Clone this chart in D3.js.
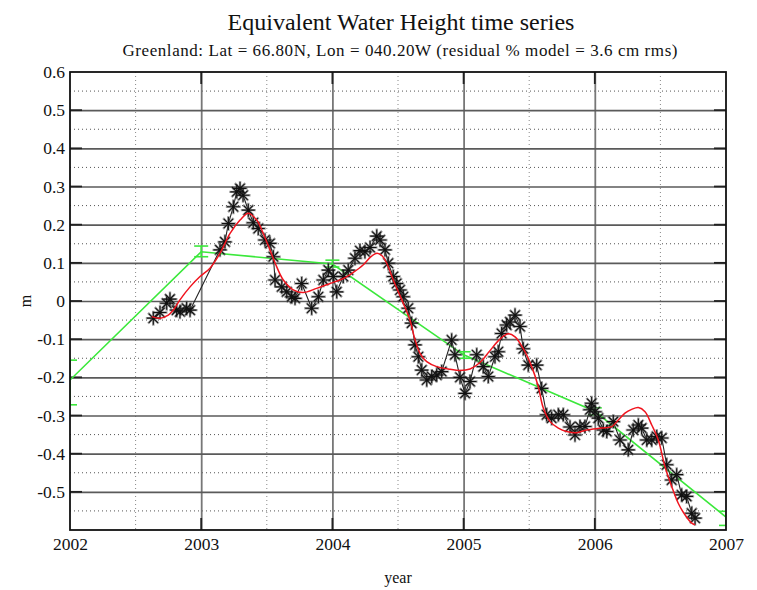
<!DOCTYPE html>
<html>
<head>
<meta charset="utf-8">
<script src="https://cdn.jsdelivr.net/npm/d3@7/dist/d3.min.js"></script>
<style>
  html, body { margin: 0; padding: 0; background: #fff; }
  svg text { font-family: "Liberation Serif", "DejaVu Serif", serif; fill: #111; }
</style>
</head>
<body>
<svg id="chart" width="757" height="590"></svg>
<script>
// Equivalent water height observations (decimal year, metres)
const obsYears = [
  2002.635, 2002.686, 2002.737, 2002.762, 2002.813, 2002.838, 2002.889, 2002.915,
  2003.143, 2003.181, 2003.207, 2003.245, 2003.271, 2003.296, 2003.319, 2003.359,
  2003.397, 2003.435, 2003.486, 2003.524, 2003.550, 2003.563, 2003.614, 2003.652,
  2003.690, 2003.715, 2003.766, 2003.842, 2003.893, 2003.931, 2003.969, 2004.007,
  2004.033, 2004.083, 2004.121, 2004.172, 2004.210, 2004.248, 2004.287, 2004.338,
  2004.363, 2004.401, 2004.426, 2004.464, 2004.490, 2004.515, 2004.540, 2004.578,
  2004.604, 2004.630, 2004.655, 2004.681, 2004.719, 2004.757, 2004.795, 2004.833,
  2004.909, 2004.934, 2004.973, 2005.011, 2005.049, 2005.100, 2005.150, 2005.188,
  2005.239, 2005.264, 2005.290, 2005.328, 2005.354, 2005.392, 2005.430, 2005.455,
  2005.493, 2005.557, 2005.595, 2005.633, 2005.671, 2005.722, 2005.760, 2005.811,
  2005.849, 2005.887, 2005.925, 2005.963, 2005.976, 2006.002, 2006.027, 2006.065,
  2006.091, 2006.141, 2006.192, 2006.255, 2006.293, 2006.332, 2006.357, 2006.396,
  2006.434, 2006.472, 2006.510, 2006.548, 2006.586, 2006.624, 2006.662, 2006.700,
  2006.739, 2006.764
];
const obsValues = [
  -0.045, -0.030, -0.006, 0.005, -0.024, -0.028, -0.019, -0.024,
  0.134, 0.155, 0.203, 0.247, 0.286, 0.295, 0.277, 0.238,
  0.205, 0.190, 0.160, 0.151, 0.116, 0.055, 0.037, 0.024,
  0.011, 0.007, 0.046, -0.019, 0.011, 0.055, 0.081, 0.064,
  0.024, 0.064, 0.081, 0.112, 0.132, 0.129, 0.140, 0.170,
  0.160, 0.134, 0.099, 0.064, 0.046, 0.029, 0.011, -0.019,
  -0.058, -0.115, -0.146, -0.181, -0.207, -0.198, -0.194, -0.185,
  -0.102, -0.141, -0.200, -0.242, -0.211, -0.141, -0.172, -0.198,
  -0.146, -0.133, -0.085, -0.063, -0.055, -0.037, -0.067, -0.125,
  -0.168, -0.168, -0.229, -0.298, -0.307, -0.298, -0.298, -0.330,
  -0.351, -0.329, -0.329, -0.285, -0.268, -0.290, -0.307, -0.338,
  -0.342, -0.316, -0.364, -0.390, -0.338, -0.325, -0.333, -0.364,
  -0.364, -0.355, -0.359, -0.429, -0.469, -0.455, -0.508, -0.512,
  -0.556, -0.569
];

// Fitted model curve (decimal year, metres)
const modelYears = [
  2002.623, 2002.686, 2002.749, 2002.787, 2002.838, 2002.915, 2002.991, 2003.067,
  2003.143, 2003.220, 2003.296, 2003.359, 2003.423, 2003.473, 2003.524, 2003.575,
  2003.626, 2003.702, 2003.778, 2003.880, 2003.982, 2004.083, 2004.159, 2004.236,
  2004.290, 2004.340, 2004.380, 2004.414, 2004.464, 2004.540, 2004.591, 2004.630,
  2004.668, 2004.719, 2004.795, 2004.896, 2004.973, 2005.049, 2005.125, 2005.201,
  2005.277, 2005.341, 2005.392, 2005.455, 2005.519, 2005.569, 2005.607, 2005.659,
  2005.722, 2005.786, 2005.862, 2005.938, 2006.053, 2006.129, 2006.179, 2006.230,
  2006.281, 2006.332, 2006.383, 2006.434, 2006.484, 2006.535, 2006.586, 2006.636,
  2006.687, 2006.739, 2006.764
];
const modelValues = [
  -0.041, -0.045, -0.037, -0.024, 0.003, 0.037, 0.064, 0.086,
  0.125, 0.177, 0.212, 0.230, 0.212, 0.177, 0.134, 0.090,
  0.055, 0.029, 0.022, 0.033, 0.046, 0.059, 0.075, 0.095,
  0.115, 0.125, 0.118, 0.099, 0.055, -0.006, -0.050, -0.102,
  -0.137, -0.159, -0.172, -0.179, -0.182, -0.178, -0.161, -0.130,
  -0.100, -0.086, -0.094, -0.125, -0.172, -0.224, -0.280, -0.316,
  -0.333, -0.342, -0.345, -0.338, -0.333, -0.329, -0.312, -0.294,
  -0.284, -0.279, -0.290, -0.325, -0.364, -0.434, -0.486, -0.530,
  -0.560, -0.582, -0.586
];

// Piecewise-linear yearly trend with its uncertainty at each node
const trendYears = [2002, 2003, 2004, 2005, 2006, 2007];
const trendValues = [-0.207, 0.129, 0.097, -0.141, -0.289, -0.566];
const trendLow = [-0.272, 0.116, 0.089, -0.150, -0.298, -0.588];
const trendHigh = [-0.155, 0.144, 0.107, -0.133, -0.280, -0.551];

// Axis ticks
const yearTicks = [2002, 2003, 2004, 2005, 2006, 2007];
const yearMinor = [2002.5, 2003.5, 2004.5, 2005.5, 2006.5];
const heightTicks = [-0.5, -0.4, -0.3, -0.2, -0.1, 0, 0.1, 0.2, 0.3, 0.4, 0.5, 0.6];
const heightMinor = [-0.55, -0.45, -0.35, -0.25, -0.15, -0.05, 0.05, 0.15, 0.25, 0.35, 0.45, 0.55];

const svg = d3.select("#chart");
const W = 757, H = 590;
const m = { left: 70, right: 31, top: 72, bottom: 60 };
const x = d3.scaleLinear().domain([2002, 2007]).range([m.left, W - m.right]);
const y = d3.scaleLinear().domain([-0.6, 0.6]).range([H - m.bottom, m.top]);
const pw = x.range()[1] - x.range()[0];
const ph = y.range()[0] - y.range()[1];

svg.append("rect").attr("width", W).attr("height", H).attr("fill", "#fff");

svg.append("defs").append("clipPath").attr("id", "plotclip")
  .append("rect").attr("x", m.left).attr("y", m.top).attr("width", pw).attr("height", ph);

// Minor dotted grid
const grid = svg.append("g");
grid.selectAll(".vminor").data(yearMinor).join("line")
  .attr("x1", d => x(d)).attr("x2", d => x(d))
  .attr("y1", m.top).attr("y2", m.top + ph)
  .attr("stroke", "#888").attr("stroke-width", 1).attr("stroke-dasharray", "1,3");
grid.selectAll(".hminor").data(heightMinor).join("line")
  .attr("y1", d => y(d)).attr("y2", d => y(d))
  .attr("x1", m.left).attr("x2", m.left + pw)
  .attr("stroke", "#555").attr("stroke-width", 1).attr("stroke-dasharray", "1,3");

// Major solid grid
const xAxisGrid = d3.axisBottom(x).tickValues(yearTicks.slice(1, -1)).tickSize(-ph).tickFormat("");
grid.append("g").attr("transform", `translate(0,${m.top + ph})`).call(xAxisGrid)
  .call(g => g.select(".domain").remove())
  .call(g => g.selectAll("line").attr("stroke", "#777").attr("stroke-width", 1.8));
const yAxisGrid = d3.axisLeft(y).tickValues(heightTicks.slice(0, -1)).tickSize(-pw).tickFormat("");
grid.append("g").attr("transform", `translate(${m.left},0)`).call(yAxisGrid)
  .call(g => g.select(".domain").remove())
  .call(g => g.selectAll("line").attr("stroke", "#5a5a5a").attr("stroke-width", 1.7));

// Darker major tick marks along the inside of the frame
const tickLen = 12;
const ticks = svg.append("g").attr("stroke", "#222").attr("stroke-width", 1.8);
heightTicks.slice(0, -1).forEach(v => {
  ticks.append("line").attr("x1", m.left).attr("x2", m.left + tickLen).attr("y1", y(v)).attr("y2", y(v));
  ticks.append("line").attr("x1", m.left + pw - tickLen).attr("x2", m.left + pw).attr("y1", y(v)).attr("y2", y(v));
});
yearTicks.slice(1, -1).forEach(v => {
  ticks.append("line").attr("x1", x(v)).attr("x2", x(v)).attr("y1", m.top + ph).attr("y2", m.top + ph - tickLen);
  ticks.append("line").attr("x1", x(v)).attr("x2", x(v)).attr("y1", m.top).attr("y2", m.top + tickLen);
});

// Tick labels via axes (plain hyphen for negatives)
const fmtHeight = d => d === 0 ? "0" : d3.format(".1f")(d).replace("\u2212", "-");
const xAxis = d3.axisBottom(x).tickValues(yearTicks).tickSize(0).tickPadding(8).tickFormat(d3.format("d"));
svg.append("g").attr("transform", `translate(0,${m.top + ph})`).call(xAxis)
  .call(g => g.select(".domain").remove())
  .call(g => g.selectAll("text").attr("font-size", 17.5).attr("font-family", "Liberation Serif, serif").attr("fill", "#111"));
const yAxis = d3.axisLeft(y).tickValues(heightTicks).tickSize(0).tickPadding(5).tickFormat(fmtHeight);
svg.append("g").attr("transform", `translate(${m.left},0)`).call(yAxis)
  .call(g => g.select(".domain").remove())
  .call(g => g.selectAll("text").attr("font-size", 17.5).attr("font-family", "Liberation Serif, serif").attr("fill", "#111"));

const plot = svg.append("g").attr("clip-path", "url(#plotclip)");

// Trend line and error bars
const trend = trendYears.map((t, i) => ({ t, v: trendValues[i], lo: trendLow[i], hi: trendHigh[i] }));
plot.append("path").datum(trend)
  .attr("d", d3.line().x(d => x(d.t)).y(d => y(d.v)))
  .attr("fill", "none").attr("stroke", "#3be83b").attr("stroke-width", 1.6);
const eb = plot.append("g").attr("stroke", "#3be83b").attr("stroke-width", 1.6);
trend.forEach(d => {
  eb.append("line").attr("x1", x(d.t)).attr("x2", x(d.t)).attr("y1", y(d.lo)).attr("y2", y(d.hi));
  [d.lo, d.hi].forEach(v => eb.append("line")
    .attr("x1", x(d.t) - 7).attr("x2", x(d.t) + 7).attr("y1", y(v)).attr("y2", y(v)));
});

// Observation line
const obs = obsYears.map((t, i) => ({ t, v: obsValues[i] }));
plot.append("path").datum(obs)
  .attr("d", d3.line().x(d => x(d.t)).y(d => y(d.v)))
  .attr("fill", "none").attr("stroke", "#222").attr("stroke-width", 1.1);

// Star markers: soft grey halo under a dark asterisk
const starPath = r => {
  let p = "";
  for (let k = 0; k < 4; k++) {
    const a = k * Math.PI / 4;
    const dx = r * Math.cos(a), dy = r * Math.sin(a);
    p += `M${(-dx).toFixed(2)},${(-dy).toFixed(2)}L${dx.toFixed(2)},${dy.toFixed(2)}`;
  }
  return p;
};
const stars = plot.append("g");
stars.selectAll(".halo").data(obs).join("path")
  .attr("transform", d => `translate(${x(d.t)},${y(d.v)})`)
  .attr("d", starPath(7.5))
  .attr("fill", "none").attr("stroke", "#555").attr("stroke-width", 2.4).attr("stroke-opacity", 0.55);
stars.selectAll(".core").data(obs).join("path")
  .attr("transform", d => `translate(${x(d.t)},${y(d.v)})`)
  .attr("d", starPath(6.5))
  .attr("fill", "none").attr("stroke", "#111").attr("stroke-width", 1.1);

// Model curve
const model = modelYears.map((t, i) => ({ t, v: modelValues[i] }));
plot.append("path").datum(model)
  .attr("d", d3.line().curve(d3.curveCatmullRom).x(d => x(d.t)).y(d => y(d.v)))
  .attr("fill", "none").attr("stroke", "#f0141e").attr("stroke-width", 1.5);

// Frame
svg.append("rect").attr("x", m.left).attr("y", m.top).attr("width", pw).attr("height", ph)
  .attr("fill", "none").attr("stroke", "#111").attr("stroke-width", 1.8);

// Titles
svg.append("text").attr("x", 401).attr("y", 30).attr("text-anchor", "middle")
  .attr("font-size", 24).text("Equivalent Water Height time series");
svg.append("text").attr("x", 400).attr("y", 56).attr("text-anchor", "middle")
  .attr("font-size", 17).attr("textLength", 555).attr("lengthAdjust", "spacing")
  .text("Greenland: Lat = 66.80N, Lon = 040.20W (residual % model = 3.6 cm rms)");
svg.append("text").attr("x", 398).attr("y", 583).attr("text-anchor", "middle")
  .attr("font-size", 16).text("year");
svg.append("text").attr("transform", "translate(31,301) rotate(-90)").attr("text-anchor", "middle")
  .attr("font-size", 16).text("m");
</script>
</body>
</html>
